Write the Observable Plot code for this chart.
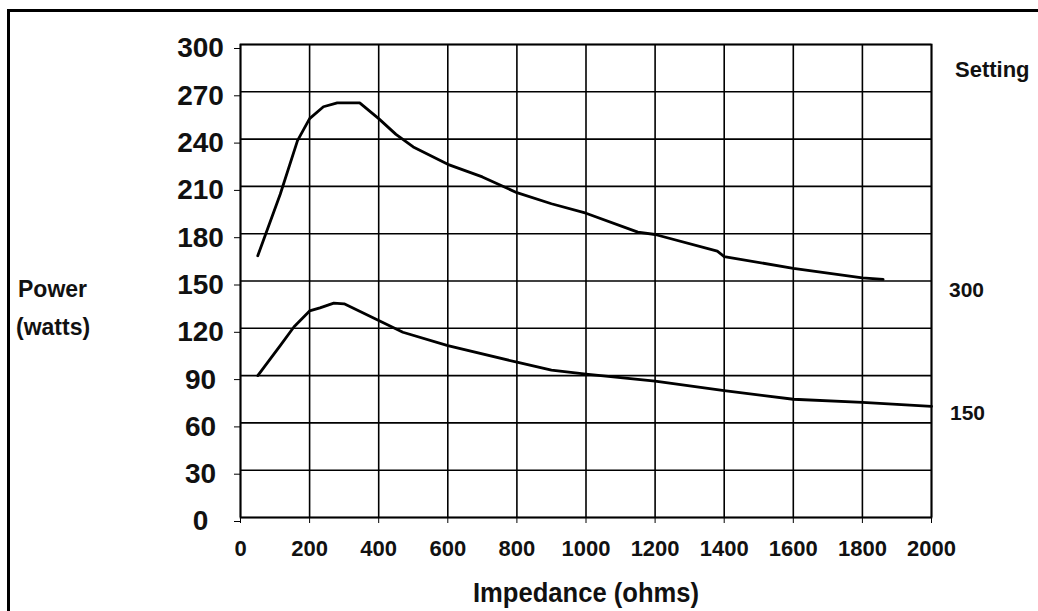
<!DOCTYPE html>
<html>
<head>
<meta charset="utf-8">
<script src="https://cdn.jsdelivr.net/npm/d3@7"></script>
<script src="https://cdn.jsdelivr.net/npm/@observablehq/plot@0.6"></script>
<style>
  html, body { margin: 0; padding: 0; background: #fff; }
  #wrap { position: relative; width: 1038px; height: 611px; overflow: hidden; background: #fff; }
  #border { position: absolute; left: 7px; top: 9px; width: 1100px; height: 700px;
            border-top: 3px solid #000; border-left: 3px solid #000; pointer-events: none; }
  #chart { position: absolute; left: 0; top: 0; }
</style>
</head>
<body>
<div id="wrap"><div id="chart"></div><div id="border"></div></div>
<script>
// ---- data ----
const impedance300 = [50, 115, 165, 200, 240, 280, 345, 400, 450, 500, 600, 700, 800, 900, 1000, 1150, 1200, 1380, 1400, 1600, 1800, 1860];
const power300     = [166, 205, 239, 253, 260.5, 263, 263, 253, 243, 235, 224, 216, 206, 199, 193, 181, 179.5, 169, 165.5, 158, 152, 151];

const impedance150 = [50, 115, 155, 200, 230, 270, 300, 400, 470, 600, 800, 900, 1000, 1200, 1400, 1600, 1800, 2000];
const power150     = [90, 109, 121, 131, 133, 136, 135.5, 125, 117.5, 109, 98.5, 93.5, 91, 86.5, 80.5, 75, 73, 70.5];

const xTicks = [0, 200, 400, 600, 800, 1000, 1200, 1400, 1600, 1800, 2000];
const yTicks = [0, 30, 60, 90, 120, 150, 180, 210, 240, 270, 300];

const xTitle = "Impedance (ohms)";
const yTitle = ["Power", "(watts)"];
const legendTitle = "Setting";
const settingLabels = ["300", "150"];

const series300 = d3.zip(impedance300, power300).map(([x, y]) => ({x, y}));
const series150 = d3.zip(impedance150, power150).map(([x, y]) => ({x, y}));

const ink = "#000";
const font = "'Liberation Sans', Arial, Helvetica, sans-serif";

const chart = Plot.plot({
  width: 1038,
  height: 611,
  marginLeft: 240,
  marginRight: 107,
  marginTop: 44,
  marginBottom: 94,
  style: { fontFamily: font, background: "transparent", color: "#111", overflow: "visible" },
  x: { domain: [0, 2000] },
  y: { domain: [0, 300] },
  marks: [
    Plot.gridX(xTicks, { stroke: ink, strokeOpacity: 1, strokeWidth: 1.6 }),
    Plot.gridY(yTicks, { stroke: ink, strokeOpacity: 1, strokeWidth: 1.6 }),
    Plot.frame({ stroke: ink, strokeWidth: 1.8 }),
    Plot.axisX(xTicks, {
      tickSize: 6, tickPadding: 17, fontSize: 22, fontWeight: "bold",
      tickFormat: d => String(d), label: null, stroke: ink
    }),
    Plot.axisY(yTicks, {
      tickSize: 6, tickPadding: 34, textAnchor: "middle", dy: 4,
      fontSize: 28, fontWeight: "bold", tickFormat: d => String(d), label: null, stroke: ink
    }),
    Plot.line(series300, { x: "x", y: "y", stroke: ink, strokeWidth: 2.8 }),
    Plot.line(series150, { x: "x", y: "y", stroke: ink, strokeWidth: 2.8 }),
    Plot.text([xTitle], {
      frameAnchor: "bottom", text: d => d, dy: 76, lineAnchor: "middle",
      fontSize: 27, fontWeight: "bold", fill: "#111"
    })
  ]
});

document.getElementById("chart").appendChild(chart);

const svg = d3.select(chart);
svg.selectAll("text").filter(function () { return this.textContent === xTitle; })
  .attr("textLength", 226).attr("lengthAdjust", "spacingAndGlyphs");

// side labels
const side = svg.append("g")
  .attr("font-family", font).attr("font-weight", "bold").attr("fill", "#111")
  .attr("text-anchor", "start");
side.append("text").attr("x", 18).attr("y", 297).attr("font-size", 23).text(yTitle[0]);
side.append("text").attr("x", 16).attr("y", 335).attr("font-size", 23).text(yTitle[1]);
side.append("text").attr("x", 955).attr("y", 77).attr("font-size", 22).text(legendTitle);
side.append("text").attr("x", 949).attr("y", 297).attr("font-size", 21).text(settingLabels[0]);
side.append("text").attr("x", 950).attr("y", 420).attr("font-size", 21).text(settingLabels[1]);
</script>
</body>
</html>
